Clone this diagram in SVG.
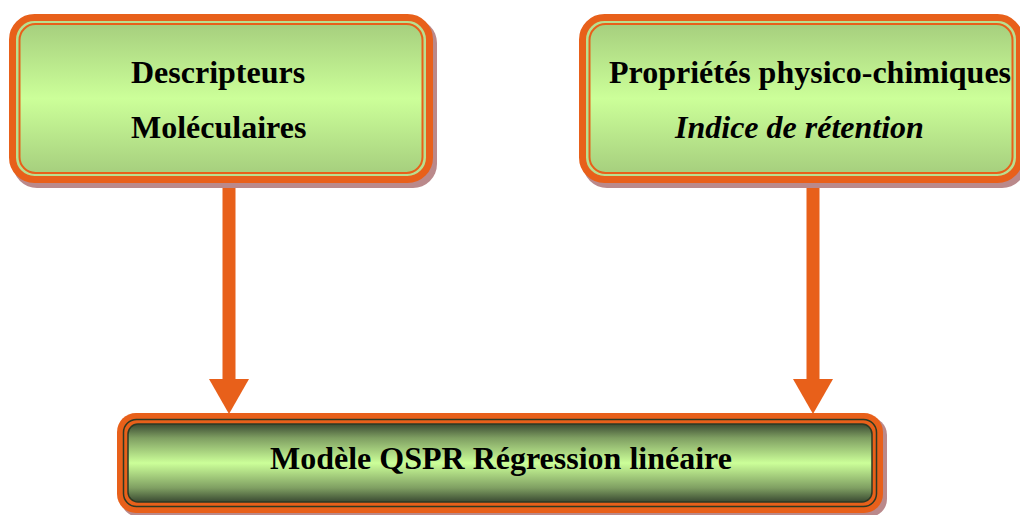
<svg xmlns="http://www.w3.org/2000/svg" width="1020" height="515" viewBox="0 0 1020 515">
  <style>
    .shadow { fill: #ba898b; }
    .outer { stroke: #e8601a; stroke-width: 7; }
    .thin { fill: none; stroke: #e8601a; stroke-width: 2; }
    .dark { fill: none; stroke: #2c3a24; stroke-width: 1.5; }
    .t { font-family: "Liberation Serif", "Times New Roman", serif; font-weight: bold; font-size: 32px; fill: #000; }
    .it { font-style: italic; }
    .conn { stroke: #e8601a; stroke-width: 13; fill: none; }
  </style>
  <defs>
    <linearGradient id="gTop" x1="0" y1="0" x2="0" y2="1">
      <stop offset="0" stop-color="#a6cf7e"/>
      <stop offset="0.5" stop-color="#ccff99"/>
      <stop offset="1" stop-color="#a6cf7e"/>
    </linearGradient>
    <linearGradient id="gBot" x1="0" y1="0" x2="0" y2="1">
      <stop offset="0" stop-color="#3a4a32"/>
      <stop offset="0.18" stop-color="#7f9f62"/>
      <stop offset="0.5" stop-color="#ccff99"/>
      <stop offset="0.82" stop-color="#7f9f62"/>
      <stop offset="1" stop-color="#3a4a32"/>
    </linearGradient>
    <marker id="ah" markerUnits="userSpaceOnUse" markerWidth="35" markerHeight="40" viewBox="0 0 35 40" refX="0" refY="20" orient="auto">
      <path d="M0,0 L35,20 L0,40 Z" fill="#e8601a"/>
    </marker>
  </defs>

  <g id="connectors">
    <line class="conn" x1="229" y1="180" x2="229" y2="379" marker-end="url(#ah)"/>
    <line class="conn" x1="813" y1="180" x2="813" y2="379" marker-end="url(#ah)"/>
  </g>

  <g id="node-descripteurs">
    <rect class="shadow" x="13" y="19" width="424" height="169" rx="24"/>
    <rect class="outer" x="12.5" y="17.5" width="417" height="162" rx="22" fill="#b8e090"/>
    <rect x="19.5" y="24" width="403" height="149" rx="16" fill="url(#gTop)" stroke="#e8601a" stroke-width="2"/>
    <text class="t" x="131" y="83">Descripteurs</text>
    <text class="t" x="131" y="138">Moléculaires</text>
  </g>

  <g id="node-proprietes">
    <rect class="shadow" x="583" y="19" width="443" height="169" rx="24"/>
    <rect class="outer" x="582.5" y="17.5" width="437" height="162" rx="22" fill="#b8e090"/>
    <rect x="589.5" y="24" width="423" height="149" rx="16" fill="url(#gTop)" stroke="#e8601a" stroke-width="2"/>
    <text class="t" x="609" y="83">Propriétés physico-chimiques</text>
    <text class="t it" x="675" y="138">Indice de rétention</text>
  </g>

  <g id="node-modele">
    <rect class="shadow" x="121" y="417" width="766" height="100" rx="18"/>
    <rect x="117" y="413" width="766" height="100" rx="19" fill="#e8601a"/>
    <rect x="123.5" y="419.5" width="753" height="87" rx="13" fill="#e8601a" stroke="#2c3a24" stroke-width="1.5"/>
    <rect x="128" y="424" width="744" height="78" rx="10" fill="url(#gBot)" stroke="#2c3a24" stroke-width="1.5"/>
    <text class="t" x="270" y="469">Modèle QSPR Régression linéaire</text>
  </g>
</svg>
